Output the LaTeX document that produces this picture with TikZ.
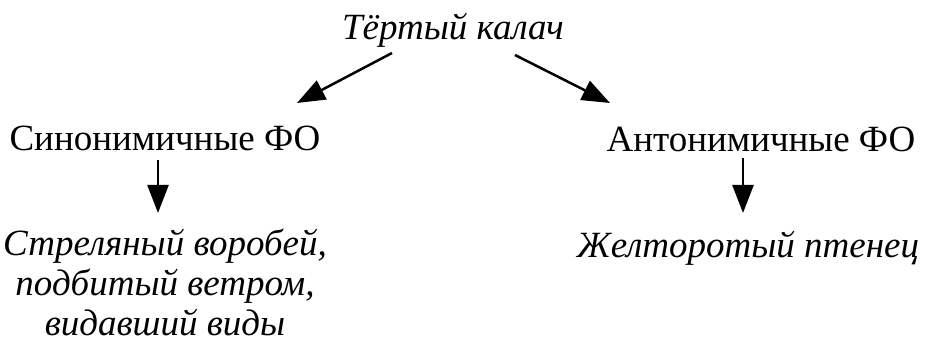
\documentclass[tikz,border=0pt]{standalone}
\usepackage{fontspec}
\setmainfont{Liberation Serif}
\usetikzlibrary{arrows.meta}
\begin{document}
\begin{tikzpicture}[x=1pt,y=1pt,
  lbl/.style={inner sep=0pt, font=\fontsize{37}{40}\selectfont},
  ex/.style={lbl, font=\fontsize{37}{40}\selectfont\itshape, align=center},
  arr/.style={line width=2.5pt, -{Triangle[length=28pt,width=21pt]}}]
\useasboundingbox (0,0) rectangle (935,345);
\node[ex, anchor=base] (top) at (453,305) {Тёртый калач};
\node[lbl, anchor=base] (syn) at (165,194) {Синонимичные ФО};
\node[lbl, anchor=base] (ant) at (761,193) {Антонимичные ФО};
\node[ex, anchor=north] (ex1) at (165,116) {Стреляный воробей,\\подбитый ветром,\\видавший виды};
\node[ex, anchor=base] (ex2) at (748,87) {Желторотый птенец};
\coordinate (t1) at (392,292);
\coordinate (s1) at (297,242);
\coordinate (t2) at (515,290);
\coordinate (a1) at (610,242);
\coordinate (sd) at (158,185);
\coordinate (se) at (158,132);
\coordinate (ad) at (743,187);
\coordinate (ae) at (743,132);
\draw[arr] (t1) -- (s1);
\draw[arr] (t2) -- (a1);
\draw[arr] (sd) -- (se);
\draw[arr] (ad) -- (ae);
\end{tikzpicture}
\end{document}
